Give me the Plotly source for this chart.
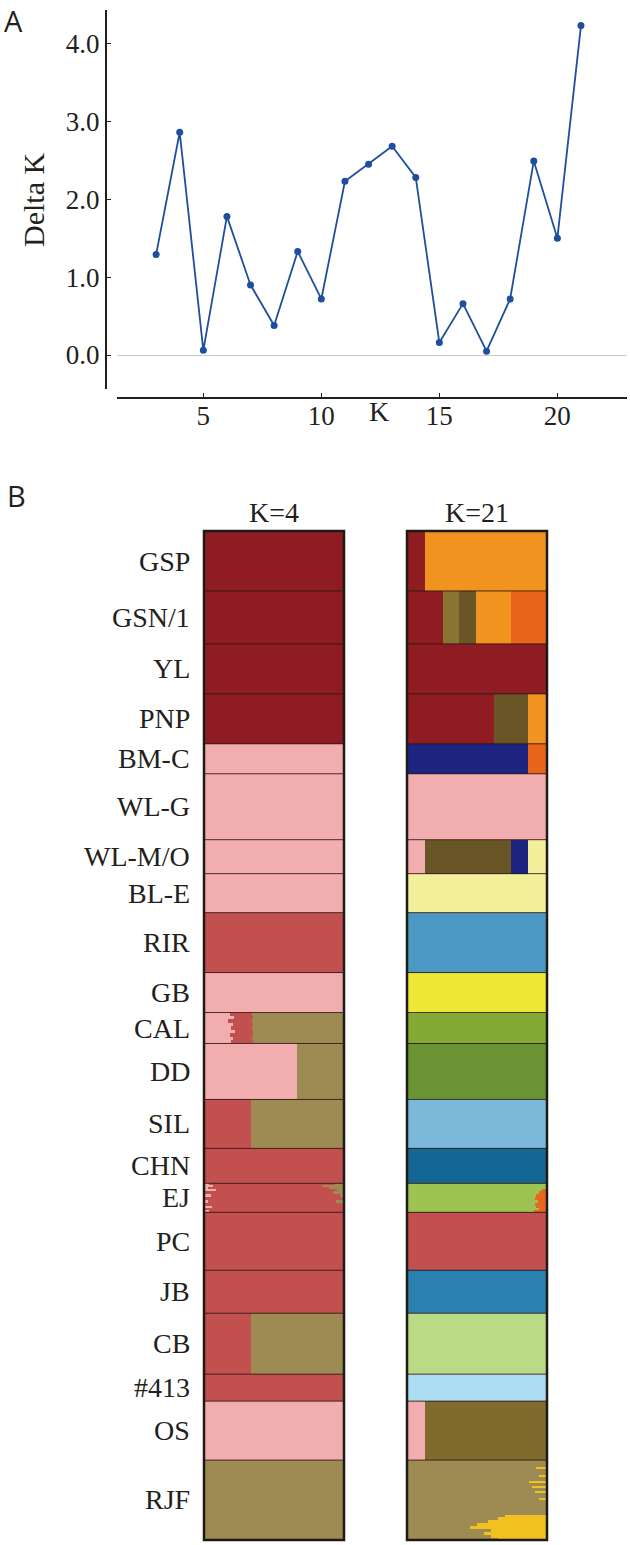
import plotly.graph_objects as go

W, H = 630, 1545

# ---------------- Panel A data ----------------
k_values = list(range(3, 22))
delta_k = [1.29, 2.86, 0.06, 1.78, 0.90, 0.38, 1.33, 0.72, 2.23, 2.45,
           2.68, 2.28, 0.16, 0.66, 0.05, 0.72, 2.49, 1.50, 4.23]
x_ticks = [5, 10, 15, 20]
y_ticks = [0, 1, 2, 3, 4]
y_tick_text = ["0.0", "1.0", "2.0", "3.0", "4.0"]

# ---------------- Panel B data ----------------
groups = ["GSP", "GSN/1", "YL", "PNP", "BM-C", "WL-G", "WL-M/O", "BL-E", "RIR", "GB",
          "CAL", "DD", "SIL", "CHN", "EJ", "PC", "JB", "CB", "#413", "OS", "RJF"]
group_sizes = [59, 53, 50, 50, 30, 66, 34, 39, 60, 40,
               31, 56, 49, 35, 29, 58, 43, 61, 27, 59, 79]

# K=4 clusters (stacking order left -> right) and group-level proportions
k4_clusters = ["pink", "darkred", "red", "olive"]
k4_pink    = [0, 0, 0, 0, 1, 1, 1, 1, 0, 1, 0.20, 0.665, 0, 0, 0, 0, 0, 0, 0, 1, 0]
k4_darkred = [1, 1, 1, 1, 0, 0, 0, 0, 0, 0, 0, 0, 0, 0, 0, 0, 0, 0, 0, 0, 0]
k4_red     = [0, 0, 0, 0, 0, 0, 0, 0, 1, 0, 0.145, 0, 0.335, 1, 1, 1, 1, 0.335, 1, 0, 0]
k4_olive   = [0, 0, 0, 0, 0, 0, 0, 0, 0, 0, 0.655, 0.335, 0.665, 0, 0, 0, 0, 0.665, 0, 0, 1]

# K=21 clusters (stacking order left -> right) and group compositions
k21_clusters = ["pink", "darkred", "olive1", "darkolive", "navy", "paleyellow", "blue",
                "yellow", "green", "green2", "lightblue", "teal", "lightgreen", "red",
                "blue2", "palegreen", "vlightblue", "brown", "khaki", "gold",
                "orange", "darkorange"]
k21_composition = [
    {"darkred": 0.125, "orange": 0.875},                                        # GSP
    {"darkred": 0.25, "olive1": 0.12, "darkolive": 0.125, "orange": 0.25,
     "darkorange": 0.255},                                                      # GSN/1
    {"darkred": 1.0},                                                           # YL
    {"darkred": 0.62, "darkolive": 0.248, "orange": 0.132},                     # PNP
    {"navy": 0.87, "darkorange": 0.13},                                         # BM-C
    {"pink": 1.0},                                                              # WL-G
    {"pink": 0.125, "darkolive": 0.62, "navy": 0.128, "paleyellow": 0.127},     # WL-M/O
    {"paleyellow": 1.0},                                                        # BL-E
    {"blue": 1.0},                                                              # RIR
    {"yellow": 1.0},                                                            # GB
    {"green": 1.0},                                                             # CAL
    {"green2": 1.0},                                                            # DD
    {"lightblue": 1.0},                                                         # SIL
    {"teal": 1.0},                                                              # CHN
    {"lightgreen": 1.0},                                                        # EJ
    {"red": 1.0},                                                               # PC
    {"blue2": 1.0},                                                             # JB
    {"palegreen": 1.0},                                                         # CB
    {"vlightblue": 1.0},                                                        # #413
    {"pink": 0.125, "brown": 0.875},                                            # OS
    {"khaki": 1.0},                                                             # RJF
]

# individual-level detail (row heights within the group and varying fractions)
cal_k4_rows = [3, 3, 4, 3, 4, 3, 4, 3, 4]
cal_k4_pink = [0.18, 0.21, 0.17, 0.20, 0.19, 0.22, 0.18, 0.20, 0.19]
cal_k4_red_end = [0.34, 0.35, 0.34, 0.345, 0.34, 0.35, 0.345, 0.34, 0.345]

ej_rows = [2, 2, 2, 2, 3, 3, 3, 3, 3, 2, 2, 2]
ej_k4_pink = [0.03, 0.06, 0.02, 0.08, 0.0, 0.04, 0.0, 0.02, 0.0, 0.05, 0.0, 0.03]
ej_k4_olive = [0.06, 0.15, 0.1, 0.04, 0.07, 0.02, 0.0, 0.05, 0.0, 0.0, 0.0, 0.0]
ej_k21_orange = [0.0, 0.0, 0.0, 0.03, 0.05, 0.07, 0.08, 0.06, 0.08, 0.07, 0.05, 0.09]

rjf_rows = [7, 2, 6, 2, 4, 2, 3, 2, 3, 2, 5, 2, 15, 2, 3, 3, 3, 3, 3, 3, 3, 1]
rjf_k21_gold = [0, 0.07, 0, 0.05, 0, 0.12, 0, 0.1, 0, 0.08, 0, 0.05, 0,
                0.3, 0.35, 0.42, 0.5, 0.55, 0.4, 0.45, 0.4, 0.35]

colors = {
    "pink": "#F2AEAE", "darkred": "#8E1C22", "red": "#C1504E", "olive": "#9E8A53",
    "olive1": "#8A7431", "darkolive": "#6A5527", "navy": "#1D2380",
    "paleyellow": "#F3F09C", "blue": "#4A98C3", "yellow": "#EDE836",
    "green": "#83AB33", "green2": "#6A9434", "lightblue": "#7AB9DA",
    "teal": "#156793", "lightgreen": "#9DC353", "blue2": "#2A80B0",
    "palegreen": "#BBDA86", "vlightblue": "#ADDDF3", "brown": "#7F6C2D",
    "khaki": "#9E8A53", "gold": "#F1C21F", "orange": "#F0931F",
    "darkorange": "#E8661C",
}

SERIF = "Liberation Serif, Times New Roman, serif"
SANS = "Open Sans, Noto Sans, sans-serif"
INK = "#231F20"


def px(x):
    return x / W


def py(y):
    return 1 - y / H


# ---------------- build rows ----------------
starts = []
acc = 0
for s in group_sizes:
    starts.append(acc)
    acc += s
total = acc


def k4_rows():
    rows = []
    for i, g in enumerate(groups):
        if g == "CAL":
            y = starts[i]
            for h, p, r in zip(cal_k4_rows, cal_k4_pink, cal_k4_red_end):
                rows.append((y + h / 2, h, {"pink": p, "red": r - p, "olive": 1 - r}))
                y += h
        elif g == "EJ":
            y = starts[i]
            for h, p, o in zip(ej_rows, ej_k4_pink, ej_k4_olive):
                rows.append((y + h / 2, h, {"pink": p, "red": 1 - p - o, "olive": o}))
                y += h
        else:
            comp = {"pink": k4_pink[i], "darkred": k4_darkred[i],
                    "red": k4_red[i], "olive": k4_olive[i]}
            rows.append((starts[i] + group_sizes[i] / 2, group_sizes[i], comp))
    return rows


def k21_rows():
    rows = []
    for i, g in enumerate(groups):
        if g == "EJ":
            y = starts[i]
            for h, o in zip(ej_rows, ej_k21_orange):
                rows.append((y + h / 2, h, {"lightgreen": 1 - o, "darkorange": o}))
                y += h
        elif g == "RJF":
            y = starts[i]
            for h, gd in zip(rjf_rows, rjf_k21_gold):
                rows.append((y + h / 2, h, {"khaki": 1 - gd, "gold": gd}))
                y += h
        else:
            rows.append((starts[i] + group_sizes[i] / 2, group_sizes[i], k21_composition[i]))
    return rows


fig = go.Figure()

# ---------------- Panel A ----------------
fig.add_trace(go.Scatter(
    x=k_values, y=delta_k, mode="lines+markers",
    line=dict(color="#1F4E9E", width=1.8),
    marker=dict(color="#1F4E9E", size=7),
    xaxis="x", yaxis="y", showlegend=False, hoverinfo="skip"))

# ---------------- Panel B ----------------
for rows, clusters, xa, ya in [(k4_rows(), k4_clusters, "x2", "y2"),
                                (k21_rows(), k21_clusters, "x3", "y3")]:
    for c in clusters:
        fig.add_trace(go.Bar(
            x=[r[2].get(c, 0) for r in rows],
            y=[r[0] for r in rows],
            width=[r[1] for r in rows],
            orientation="h",
            marker=dict(color=colors[c], line=dict(width=0)),
            xaxis=xa, yaxis=ya, showlegend=False, hoverinfo="skip"))

shapes = []
# group separators
for xa, ya in [("x2", "y2"), ("x3", "y3")]:
    for s in starts[1:]:
        shapes.append(dict(type="line", xref=xa, yref=ya, x0=0, x1=1, y0=s, y1=s,
                           line=dict(color="rgba(45,20,20,0.85)", width=1)))
# panel borders
for x0, x1 in [(204, 344), (407, 547)]:
    shapes.append(dict(type="rect", xref="paper", yref="paper",
                       x0=px(x0), x1=px(x1), y0=py(1540), y1=py(531),
                       line=dict(color="#1E1A16", width=2.5)))

annotations = [
    dict(text="A", x=px(3), y=py(0), xanchor="left", yanchor="top", borderpad=0,
         font=dict(family=SANS, size=29, color=INK)),
    dict(text="B", x=px(5), y=py(496), xanchor="left", yanchor="middle",
         font=dict(family=SANS, size=29, color=INK)),
    dict(text="Delta K", x=px(33), y=py(200), textangle=-90, xanchor="center",
         yanchor="middle", font=dict(family=SERIF, size=30, color=INK)),
    dict(text="K", x=px(379), y=py(411), xanchor="center", yanchor="middle",
         font=dict(family=SERIF, size=28, color=INK)),
    dict(text="K=4", x=px(274), y=py(513), xanchor="center", yanchor="middle",
         font=dict(family=SERIF, size=28, color=INK)),
    dict(text="K=21", x=px(477), y=py(513), xanchor="center", yanchor="middle",
         font=dict(family=SERIF, size=28, color=INK)),
]
for i, g in enumerate(groups):
    annotations.append(dict(text=g, xref="paper", yref="y2", x=px(192),
                            y=starts[i] + group_sizes[i] / 2,
                            xanchor="right", yanchor="middle",
                            font=dict(family=SERIF, size=28, color=INK)))
for a in annotations:
    a.setdefault("xref", "paper")
    a.setdefault("yref", "paper")
    a["showarrow"] = False

fig.update_layout(
    width=W, height=H,
    margin=dict(l=0, r=0, t=0, b=0),
    paper_bgcolor="white", plot_bgcolor="rgba(0,0,0,0)",
    barmode="stack",
    showlegend=False,
    shapes=shapes,
    annotations=annotations,
    xaxis=dict(domain=[px(117), px(627)], range=[1.343, 22.95], anchor="free",
               position=py(398), showline=True, linecolor=INK, linewidth=2,
               tickvals=x_ticks, ticks="inside", ticklen=4, tickcolor=INK,
               ticklabelstandoff=-6,
               tickfont=dict(family=SERIF, size=27, color=INK),
               showgrid=False, zeroline=False),
    yaxis=dict(domain=[py(389), py(10)], range=[-0.436, 4.43], anchor="free",
               position=px(106), showline=True, linecolor=INK, linewidth=2,
               tickvals=y_ticks, ticktext=y_tick_text, ticks="inside", ticklen=4,
               tickcolor=INK, tickfont=dict(family=SERIF, size=27, color=INK),
               showgrid=False, zeroline=True, zerolinecolor="#C8C8C8",
               zerolinewidth=1),
    xaxis2=dict(domain=[px(205), px(343)], range=[0, 1], anchor="y2",
                visible=False, fixedrange=True),
    yaxis2=dict(domain=[py(1539), py(532)], range=[total, 0], anchor="x2",
                visible=False),
    xaxis3=dict(domain=[px(408), px(546)], range=[0, 1], anchor="y3",
                visible=False),
    yaxis3=dict(domain=[py(1539), py(532)], range=[total, 0], anchor="x3",
                visible=False),
)

fig.write_html("out.html",
               config={"displayModeBar": False},
               post_script="document.body.style.margin='0';"
                           "document.body.style.overflow='hidden';")
